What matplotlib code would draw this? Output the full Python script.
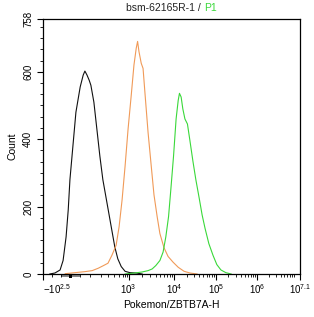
import numpy as np
import matplotlib
matplotlib.use("Agg")
import matplotlib.pyplot as plt
from matplotlib.patches import Rectangle
import matplotlib.transforms as mtransforms

plt.rcParams['font.family'] = ['Liberation Sans', 'DejaVu Sans']
plt.rcParams['mathtext.fontset'] = 'custom'
plt.rcParams['mathtext.rm'] = 'Liberation Sans'
plt.rcParams['mathtext.it'] = 'Liberation Sans'

# ---- data (x in axis "decade" units: 3 = 10^3, 4 = 10^4, ...) ----
black_x = [1.16, 1.28, 1.40, 1.47, 1.54, 1.59, 1.63, 1.70, 1.77, 1.87, 1.94, 1.98,
           2.03, 2.08, 2.12, 2.19, 2.26, 2.33, 2.40, 2.47, 2.54, 2.61, 2.68, 2.75,
           2.83, 2.92, 3.03, 3.17, 3.30]
black_y = [0, 3, 12, 40, 110, 190, 280, 380, 480, 555, 590, 602,
           590, 575, 560, 510, 430, 350, 280, 230, 180, 130, 80, 45,
           22, 8, 4, 3, 0]

orange_x = [1.52, 1.75, 1.98, 2.15, 2.29, 2.40, 2.52, 2.61, 2.71, 2.78, 2.85, 2.92,
            2.99, 3.06, 3.12, 3.17, 3.20, 3.23, 3.28, 3.32, 3.36, 3.43, 3.50, 3.56,
            3.63, 3.69, 3.78, 3.87, 3.98, 4.10, 4.24, 4.38, 4.55]
orange_y = [1, 4, 7, 10, 17, 24, 32, 55, 85, 140, 220, 320,
            430, 530, 620, 670, 690, 660, 625, 610, 540, 420, 320, 235,
            170, 120, 78, 52, 35, 20, 8, 3, 0]

green_x = [2.92, 3.14, 3.30, 3.43, 3.52, 3.60, 3.69, 3.76, 3.82, 3.88, 3.93, 3.99,
           4.05, 4.10, 4.13, 4.17, 4.21, 4.26, 4.32, 4.38, 4.45, 4.52, 4.60, 4.67,
           4.74, 4.83, 4.93, 5.02, 5.12, 5.24, 5.37]
green_y = [0, 3, 6, 10, 15, 25, 40, 65, 110, 170, 250, 350,
           460, 515, 536, 525, 490, 460, 445, 395, 335, 280, 225, 175,
           135, 90, 55, 28, 12, 4, 0]

x_tick_pos = [1.0, 3, 4, 5, 6, 7.1]
x_tick_labels = [r'$-10^{2.5}$', r'$10^{3}$', r'$10^{4}$', r'$10^{5}$', r'$10^{6}$', r'$10^{7.1}$']
y_ticks = [0, 200, 400, 600, 758]

# axis transform (biexponential-like display) as piecewise linear
knots_u = np.array([1.0, 3.0, 4.0, 5.0, 6.0, 7.1])
knots_p = np.array([43.0, 128.5, 174.0, 216.0, 257.0, 300.0])

def fwd(u):
    u = np.asarray(u, dtype=float)
    return np.interp(u, knots_u, knots_p)

def inv(p):
    p = np.asarray(p, dtype=float)
    return np.interp(p, knots_p, knots_u)

W, H = 314, 317
fig = plt.figure(figsize=(W / 100, H / 100), dpi=100)
ax = fig.add_axes([43 / W, 1 - 274 / H, (300 - 43) / W, (274 - 18.5) / H])
ax.set_xscale('function', functions=(fwd, inv))

ax.plot(black_x, black_y, color='#111111', lw=0.8)
ax.plot(orange_x, orange_y, color='#F09A58', lw=0.8)
ax.plot(green_x, green_y, color='#3AD83A', lw=0.8)

ax.set_xlim(1.0, 7.1)
ax.set_ylim(0, 758)

ax.set_xticks(x_tick_pos)
labels = ax.set_xticklabels(x_tick_labels)
labels[0].set_horizontalalignment('left')
labels[0].set_x(1.0)
minor = [1.21, 1.42, 1.63, 1.87, 2.10, 2.36, 2.52, 2.66, 2.78, 2.86, 2.92, 2.97]
for k in range(3, 7):
    for m in range(2, 10):
        minor.append(k + np.log10(m))
ax.set_xticks(minor, minor=True)

ax.set_yticks(y_ticks)
ax.set_yticklabels([str(v) for v in y_ticks], rotation=90, va='center')
ax.set_yticks([v for v in np.arange(0, 758, 200 / 6) if all(abs(v - t) > 1 for t in y_ticks)], minor=True)

ax.tick_params(axis='both', which='major', length=4.5, width=0.8, labelsize=7, color='black')
ax.tick_params(axis='both', which='minor', length=2.5, width=0.6, color='black')
ax.tick_params(axis='x', pad=1.5)
ax.tick_params(axis='y', pad=2.5)
for s in ax.spines.values():
    s.set_linewidth(0.9)

# zero-region marker under the axis
trans = mtransforms.blended_transform_factory(ax.transData, ax.transAxes)
ax.add_patch(Rectangle((1.42, -0.012), 0.445, 0.012, transform=trans, color='#888888',
                       clip_on=False, lw=0))
ax.add_patch(Rectangle((1.61, -0.014), 0.07, 0.014, transform=trans, color='black',
                       clip_on=False, lw=0))

ax.set_xlabel('Pokemon/ZBTB7A-H', fontsize=7.5, labelpad=3)
ax.set_ylabel('Count', fontsize=7.5, labelpad=4)

fig.text(201 / W, 1 - 8 / H, 'bsm-62165R-1 /', ha='right', va='center', fontsize=7.5, color='#222222')
fig.text(204 / W, 1 - 8 / H, 'P1', ha='left', va='center', fontsize=7.5, color='#3AD83A')

fig.savefig('out.png', dpi=100)
